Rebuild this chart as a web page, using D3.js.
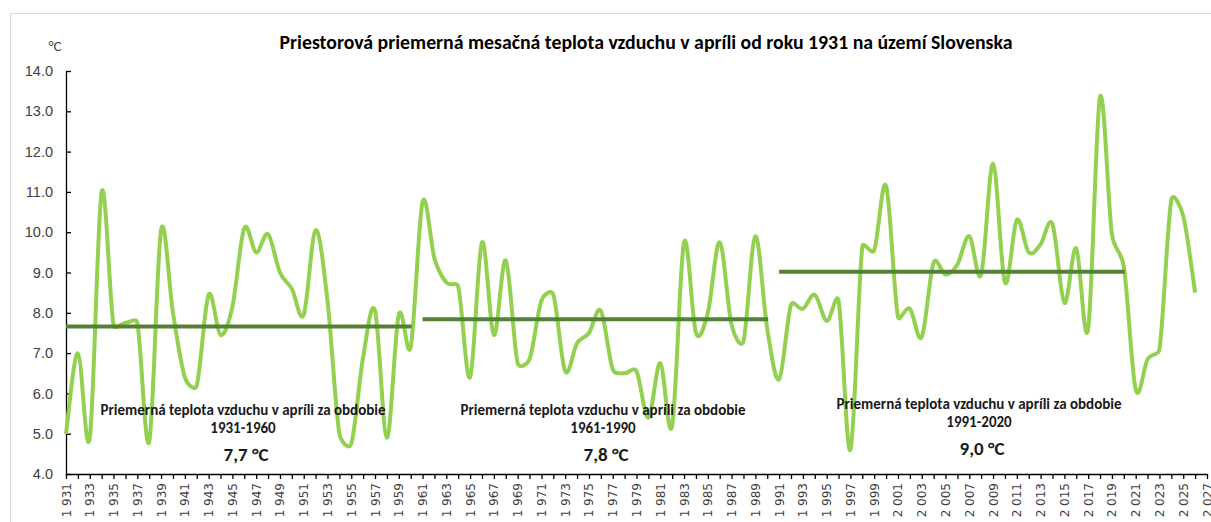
<!DOCTYPE html>
<html>
<head>
<meta charset="utf-8">
<script src="https://cdn.jsdelivr.net/npm/d3@7"></script>
<style>
  body { margin: 0; background: #fff; }
  svg { display: block; font-family: Carlito, Calibri, Lato, sans-serif; }
</style>
</head>
<body>
<svg id="chart" width="1211" height="522"></svg>
<script>
// April mean air temperature, Slovakia
var years = d3.range(1931, 2027);
var temps = [
  5.0, 7.0, 4.9, 11.0, 7.7, 7.75, 7.75, 4.8, 10.05, 8.0,
  6.4, 6.2, 8.45, 7.45, 8.15, 10.1, 9.5, 9.95, 9.0, 8.6,
  7.95, 10.05, 8.3, 5.0, 4.75, 6.9, 8.05, 4.9, 7.95, 7.15,
  10.75, 9.35, 8.75, 8.65, 6.4, 9.75, 7.45, 9.3, 6.75, 6.85,
  8.3, 8.45, 6.55, 7.25, 7.5, 8.05, 6.6, 6.5, 6.55, 5.4,
  6.75, 5.2, 9.75, 7.5, 8.0, 9.75, 7.7, 7.3, 9.9, 7.6,
  6.35, 8.2, 8.1, 8.45, 7.8, 8.3, 4.6, 9.65, 9.55, 11.15,
  7.9, 8.1, 7.4, 9.25, 8.95, 9.2, 9.9, 8.95, 11.7, 8.75,
  10.3, 9.5, 9.7, 10.2, 8.25, 9.6, 7.6, 13.35, 9.95, 9.15,
  6.1, 6.85, 7.1, 10.8, 10.4, 8.5
];
var periods = [[1931, 1960], [1961, 1990], [1991, 2020]];
var periodMeans = [7.66, 7.84, 9.02];
var periodLabels = ["7,7 °C", "7,8 °C", "9,0 °C"];
var yTicks = d3.range(4, 14.01, 1);

var svg = d3.select("#chart");
var margin = {left: 66, right: 4, top: 71, bottom: 48};
var W = 1211, H = 522;

var x = d3.scaleLinear().domain([1931, 2027]).range([margin.left, W - margin.right]);
var y = d3.scaleLinear().domain([4, 14]).range([H - margin.bottom, margin.top]);

// spreadsheet-style smoothing: bezier handles 1/6 of neighbour span, capped at half the segment
function SmoothLine(context) { this._context = context; }
SmoothLine.prototype = {
  areaStart: function() {}, areaEnd: function() {},
  lineStart: function() { this._pts = []; },
  point: function(px, py) { this._pts.push([+px, +py]); },
  lineEnd: function() {
    var p = this._pts, c = this._context, n = p.length;
    if (!n) return;
    var dist = function(a, b) { return Math.hypot(b[0] - a[0], b[1] - a[1]); };
    c.moveTo(p[0][0], p[0][1]);
    for (var i = 0; i < n - 1; i++) {
      var p0 = p[Math.max(i - 1, 0)], p1 = p[i], p2 = p[i + 1], p3 = p[Math.min(i + 2, n - 1)];
      var d02 = dist(p0, p2), d12 = dist(p1, p2), d13 = dist(p1, p3);
      var f0 = 1 / 6, f1 = 1 / 6;
      if (d02 / 6 >= d12 / 2 && d02 > 0) f0 = d12 / 2 / d02;
      if (d13 / 6 >= d12 / 2 && d13 > 0) f1 = d12 / 2 / d13;
      c.bezierCurveTo(
        p1[0] + f0 * (p2[0] - p0[0]), p1[1] + f0 * (p2[1] - p0[1]),
        p2[0] - f1 * (p3[0] - p1[0]), p2[1] - f1 * (p3[1] - p1[1]),
        p2[0], p2[1]);
    }
  }
};
var smoothCurve = function(ctx) { return new SmoothLine(ctx); };

// outer frame
svg.append("rect")
  .attr("x", 10.5).attr("y", 13.5)
  .attr("width", W).attr("height", H)
  .attr("fill", "none").attr("stroke", "#d9d9d9");

svg.append("text")
  .attr("x", 646).attr("y", 44)
  .attr("text-anchor", "middle").attr("dominant-baseline", "middle")
  .attr("font-size", 19.8).attr("font-weight", "bold").attr("fill", "#000")
  .text("Priestorová priemerná mesačná teplota vzduchu v apríli od roku 1931 na území Slovenska");

svg.append("text")
  .attr("x", 55).attr("y", 47)
  .attr("text-anchor", "middle").attr("dominant-baseline", "middle")
  .attr("font-size", 15).attr("fill", "#404040")
  .text("°C");

// y axis
var yAxis = svg.append("g")
  .attr("transform", "translate(" + margin.left + ",0)")
  .call(d3.axisLeft(y).tickValues(yTicks).tickSizeInner(-5).tickSizeOuter(0).tickPadding(13)
    .tickFormat(d3.format(".1f")));
yAxis.select(".domain").attr("stroke", "#000").attr("stroke-width", 1.3);
yAxis.selectAll(".tick line").attr("stroke", "#000").attr("stroke-width", 1.3);
yAxis.selectAll("text").attr("font-size", 14.5).attr("fill", "#404040").attr("font-family", null);

// x axis
var xAxis = svg.append("g")
  .attr("transform", "translate(0," + y(4) + ")")
  .call(d3.axisBottom(x).tickValues(d3.range(1931, 2028)).tickSizeInner(5).tickSizeOuter(0)
    .tickFormat(""));
xAxis.select(".domain").attr("stroke", "#000").attr("stroke-width", 1.3);
xAxis.selectAll(".tick line").attr("stroke", "#000").attr("stroke-width", 1.3);

var fmtYear = function(d) { return String(d).slice(0, 1) + "\u00a0" + String(d).slice(1); };
svg.append("g").selectAll("text")
  .data(d3.range(1931, 2028, 2))
  .join("text")
  .attr("transform", function(d) { return "translate(" + (x(d) + 1) + "," + (y(4) + 9) + ") rotate(-90)"; })
  .attr("text-anchor", "end").attr("dominant-baseline", "middle")
  .attr("font-family", "'DejaVu Sans', sans-serif")
  .attr("font-size", 12).attr("fill", "#404040")
  .text(fmtYear);

// temperature line
var line = d3.line()
  .x(function(d, i) { return x(years[i]); })
  .y(function(d) { return y(d); })
  .curve(smoothCurve);

svg.append("path")
  .datum(temps)
  .attr("d", line)
  .attr("fill", "none")
  .attr("stroke", "#92d050")
  .attr("stroke-width", 4)
  .attr("stroke-linejoin", "round");

// period means
svg.append("g").selectAll("line")
  .data(periods)
  .join("line")
  .attr("x1", function(d) { return x(d[0]); })
  .attr("x2", function(d) { return x(d[1]) + 1; })
  .attr("y1", function(d, i) { return y(periodMeans[i]); })
  .attr("y2", function(d, i) { return y(periodMeans[i]); })
  .attr("stroke", "#548235")
  .attr("stroke-width", 4);

// annotations
var notePos = [[243, 411], [603, 411], [979, 405]];
var notes = svg.append("g").selectAll("g")
  .data(periods)
  .join("g")
  .attr("transform", function(d, i) { return "translate(" + notePos[i][0] + "," + notePos[i][1] + ")"; });

notes.append("text")
  .attr("text-anchor", "middle").attr("dominant-baseline", "middle")
  .attr("font-size", 15).attr("font-weight", "bold").attr("fill", "#1a1a1a")
  .text("Priemerná teplota vzduchu v apríli za obdobie");
notes.append("text")
  .attr("y", 18)
  .attr("text-anchor", "middle").attr("dominant-baseline", "middle")
  .attr("font-size", 15).attr("font-weight", "bold").attr("fill", "#1a1a1a")
  .text(function(d) { return d[0] + "-" + d[1]; });
notes.append("text")
  .attr("x", 3).attr("y", 45)
  .attr("text-anchor", "middle").attr("dominant-baseline", "middle")
  .attr("font-size", 19).attr("font-weight", "bold").attr("fill", "#1a1a1a")
  .text(function(d, i) { return periodLabels[i]; });
</script>
</body>
</html>
